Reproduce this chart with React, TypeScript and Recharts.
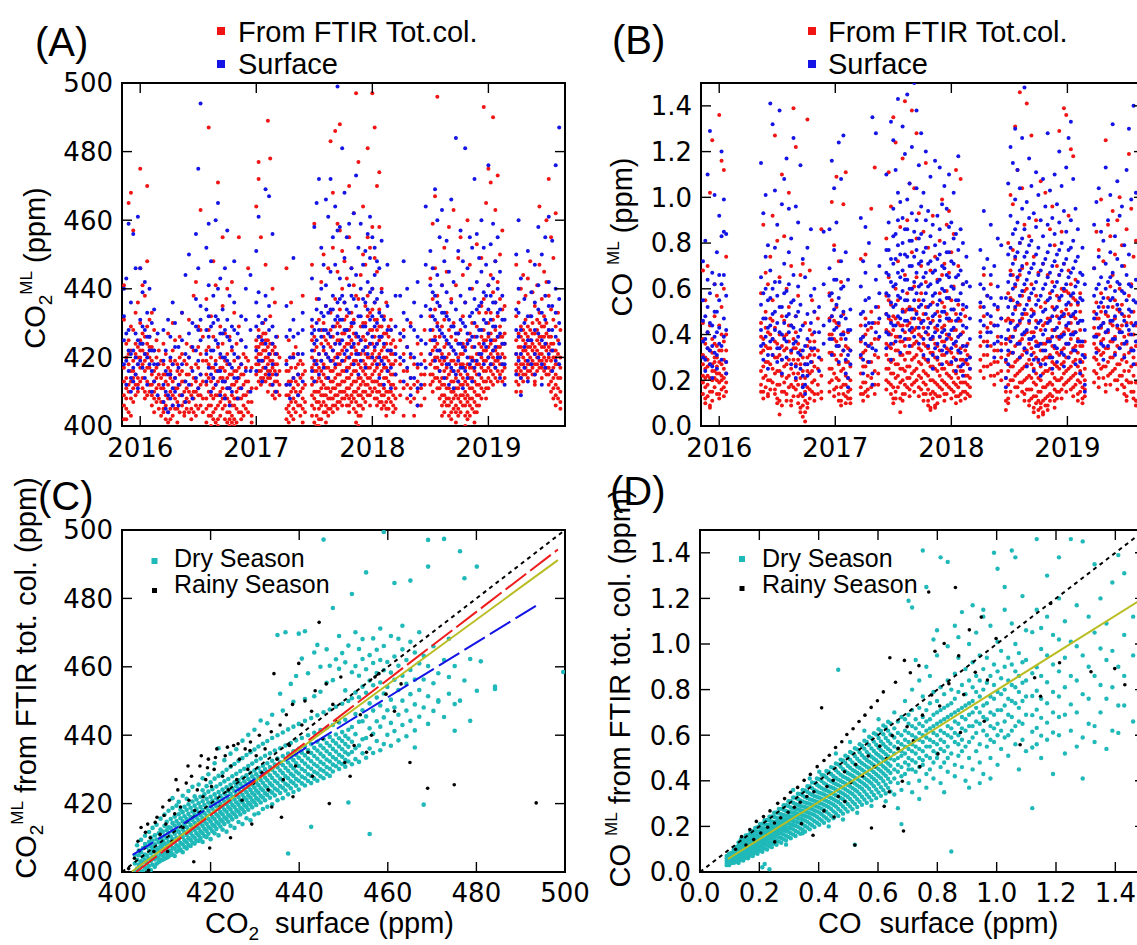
import { ScatterChart, Scatter, XAxis, YAxis, ReferenceArea } from 'recharts';

// time series rows: [decimal year, values...]
const A_FTIR = [
  [2015.86, 402, 406, 409, 413, 417, 431, 441], [2015.88, 405, 408, 411, 414, 420, 424, 402], [2015.90, 404, 410, 412, 418, 421, 425, 465],
  [2015.92, 403, 408, 413, 416, 422, 429, 468], [2015.94, 407, 411, 414, 416, 419, 428, 457], [2015.96, 409, 412, 415, 421, 424, 433],
  [2015.98, 410, 414, 418, 420, 423, 436, 412], [2016.00, 413, 417, 420, 422, 425, 430, 475, 446], [2016.02, 411, 414, 418, 422, 424, 427, 441],
  [2016.04, 408, 410, 416, 419, 421, 426, 438], [2016.06, 409, 413, 417, 421, 424, 429, 470, 448], [2016.08, 410, 412, 417, 420, 423, 426, 431],
  [2016.10, 406, 409, 412, 415, 419, 423, 433], [2016.12, 404, 408, 410, 413, 416, 422, 428], [2016.14, 407, 411, 414, 417, 420, 425],
  [2016.16, 405, 408, 412, 415, 418, 422], [2016.18, 403, 407, 411, 414, 419],
  [2016.20, 404, 407, 411, 415, 418, 424, 405], [2016.22, 402, 406, 409, 413, 415, 421], [2016.24, 401, 404, 408, 412, 417, 427],
  [2016.26, 402, 405, 410, 414, 416, 419], [2016.28, 403, 406, 409, 413, 418, 422, 430], [2016.30, 405, 408, 411, 414, 419, 425],
  [2016.32, 401, 405, 407, 411, 416, 418], [2016.34, 404, 409, 412, 415, 420, 426], [2016.36, 406, 409, 413, 416, 421, 433],
  [2016.38, 403, 407, 410, 413, 419, 404], [2016.40, 405, 408, 411, 415, 418, 424], [2016.42, 404, 407, 410, 415, 420, 431],
  [2016.44, 402, 405, 409, 412, 417, 423], [2016.46, 404, 408, 410, 414, 422, 438], [2016.48, 403, 406, 410, 413, 418, 442],
  [2016.50, 405, 409, 411, 417, 423, 429], [2016.52, 406, 409, 412, 415, 421, 463, 428], [2016.54, 404, 408, 413, 419, 426],
  [2016.57, 401, 405, 408, 412, 415, 419, 422, 437], [2016.59, 403, 406, 410, 414, 418, 423, 428, 487], [2016.61, 400, 403, 406, 409, 413, 417, 420, 432],
  [2016.63, 402, 404, 408, 411, 414, 417, 426, 448], [2016.65, 401, 405, 409, 412, 416, 419, 441], [2016.67, 400, 402, 406, 409, 413, 416, 423, 471],
  [2016.69, 403, 407, 410, 414, 417, 420, 429], [2016.71, 405, 408, 411, 414, 417, 424, 435, 455], [2016.73, 402, 406, 409, 413, 416, 419, 427],
  [2016.75, 401, 404, 408, 411, 414, 418, 421, 440], [2016.77, 400, 402, 404, 407, 411, 415, 418, 426], [2016.79, 401, 403, 406, 409, 412, 415, 422, 442],
  [2016.81, 400, 402, 406, 408, 412, 416, 419, 433], [2016.83, 401, 405, 408, 410, 413, 416, 424], [2016.85, 404, 408, 411, 414, 417, 420, 429, 455],
  [2016.87, 402, 404, 408, 411, 415, 418, 425], [2016.89, 403, 406, 409, 412, 415, 421], [2016.91, 405, 409, 413, 417, 420],
  [2016.93, 404, 407, 410, 413, 419, 446], [2016.96, 401, 403, 407, 411, 417],
  [2017.00, 411, 415, 418, 420, 423, 425, 464], [2017.02, 413, 416, 418, 421, 423, 426, 428, 477, 472], [2017.04, 412, 414, 416, 419, 421, 424, 426, 455],
  [2017.06, 414, 417, 419, 422, 424, 427, 430, 413], [2017.08, 413, 415, 417, 420, 422, 425, 427, 447], [2017.10, 410, 414, 416, 418, 420, 423, 425, 489],
  [2017.12, 412, 414, 416, 419, 421, 424, 432, 478], [2017.14, 409, 412, 415, 417, 419, 422, 424, 440], [2017.16, 408, 410, 413, 416, 418, 421, 423, 436],
  [2017.18, 410, 413, 415, 418, 421, 426], [2017.20, 409, 412, 416, 420],
  [2017.26, 402, 405, 409, 412, 416, 419, 446], [2017.28, 401, 404, 406, 409, 413, 416, 425], [2017.30, 403, 407, 410, 413, 417, 420, 436],
  [2017.32, 402, 405, 408, 411, 414, 421], [2017.34, 404, 407, 410, 413, 417, 423], [2017.36, 406, 409, 412, 415, 418, 421],
  [2017.38, 403, 406, 410, 414, 419], [2017.40, 401, 405, 408, 411, 415, 418, 438], [2017.42, 404, 407, 412, 416],
  [2017.48, 403, 406, 409, 412, 414, 417, 420, 425, 429, 447], [2017.50, 401, 405, 408, 410, 413, 416, 418, 422, 426, 459],
  [2017.52, 400, 403, 407, 410, 413, 416, 419, 423, 437], [2017.54, 400, 402, 405, 407, 410, 414, 417, 421, 431],
  [2017.56, 402, 406, 409, 411, 413, 416, 419, 424, 428, 442], [2017.58, 404, 407, 409, 412, 415, 418, 422, 426, 430, 450],
  [2017.60, 401, 404, 406, 409, 411, 414, 417, 421, 425, 435], [2017.62, 403, 405, 408, 411, 414, 417, 420, 424, 427, 446],
  [2017.64, 405, 408, 410, 413, 416, 419, 423, 428, 433, 483], [2017.66, 404, 406, 408, 411, 413, 416, 419, 422, 426, 452, 468],
  [2017.68, 406, 409, 411, 414, 417, 420, 424, 429, 437, 486], [2017.70, 405, 407, 409, 412, 415, 418, 421, 425, 430, 445, 459],
  [2017.72, 407, 410, 412, 415, 418, 421, 425, 429, 434, 457, 488], [2017.74, 406, 408, 410, 413, 416, 419, 422, 427, 440, 451],
  [2017.76, 408, 410, 413, 416, 419, 423, 427, 431, 436, 448], [2017.78, 406, 409, 411, 414, 417, 420, 424, 428, 432, 443],
  [2017.80, 404, 406, 408, 411, 414, 417, 420, 424, 428, 455, 470], [2017.82, 407, 409, 412, 415, 418, 421, 425, 429, 433, 446],
  [2017.84, 405, 408, 410, 413, 416, 419, 423, 427, 431, 441, 462], [2017.86, 401, 404, 407, 410, 413, 416, 419, 422, 426, 438, 497],
  [2017.88, 400, 403, 406, 409, 411, 414, 418, 421, 424, 437, 477], [2017.90, 403, 406, 409, 412, 414, 417, 421, 425, 429, 444],
  [2017.92, 405, 408, 410, 413, 416, 419, 422, 426, 430, 450, 464], [2017.94, 407, 410, 412, 415, 418, 421, 425, 430, 435, 447],
  [2017.96, 409, 412, 414, 417, 420, 423, 427, 432, 438, 455, 481], [2017.98, 406, 409, 411, 414, 417, 420, 424, 428, 433, 452],
  [2018.00, 410, 413, 415, 418, 421, 424, 428, 434, 440, 458, 497], [2018.02, 408, 411, 413, 416, 419, 422, 426, 431, 436, 449, 487],
  [2018.04, 406, 408, 410, 413, 417, 420, 424, 428, 431, 445, 470], [2018.06, 407, 410, 412, 415, 418, 421, 425, 429, 434, 458, 474],
  [2018.08, 405, 407, 409, 412, 416, 419, 422, 426, 429, 440], [2018.10, 406, 409, 411, 414, 417, 420, 423, 427, 432],
  [2018.12, 403, 405, 407, 410, 414, 417, 420, 424, 427, 436], [2018.14, 405, 408, 410, 413, 416, 419, 422, 426, 429],
  [2018.16, 407, 410, 412, 415, 418, 421, 424, 428, 431], [2018.18, 404, 406, 409, 412, 415, 418, 421, 425], [2018.20, 405, 408, 411, 415, 419, 423],
  [2018.24, 409, 413, 418, 425], [2018.27, 411, 416, 421, 428, 403], [2018.30, 408, 412, 416, 423], [2018.33, 407, 411, 414, 420, 430],
  [2018.36, 403, 408, 412, 418], [2018.39, 406, 410, 413, 417, 424], [2018.42, 406, 411, 415, 421], [2018.45, 408, 412, 415, 419, 428],
  [2018.50, 412, 415, 418, 421, 425, 432, 443], [2018.52, 410, 413, 415, 419, 422, 428, 437, 459], [2018.54, 414, 417, 420, 423, 426, 434, 446, 467],
  [2018.56, 411, 414, 417, 420, 424, 430, 438, 496], [2018.58, 408, 411, 413, 416, 419, 422, 426, 435], [2018.60, 403, 406, 409, 412, 414, 418, 421, 429, 441],
  [2018.62, 404, 407, 409, 412, 416, 419, 423, 431, 452], [2018.64, 406, 408, 411, 414, 417, 420, 424, 433, 445], [2018.66, 403, 406, 408, 411, 415, 418, 421, 428, 458],
  [2018.68, 402, 404, 407, 410, 413, 416, 419, 426, 437], [2018.70, 405, 408, 410, 413, 416, 419, 422, 430, 463], [2018.72, 401, 404, 406, 409, 411, 414, 418, 425, 441],
  [2018.74, 403, 405, 408, 411, 413, 416, 420, 427, 449], [2018.76, 404, 407, 409, 412, 415, 418, 421, 428, 455], [2018.78, 406, 409, 412, 414, 418, 421, 424, 432, 444],
  [2018.80, 400, 403, 406, 408, 410, 413, 417, 423, 436], [2018.82, 402, 404, 407, 409, 412, 415, 418, 425, 460], [2018.84, 403, 406, 408, 411, 414, 417, 420, 427, 447],
  [2018.86, 405, 408, 411, 414, 417, 420, 423, 430, 440], [2018.88, 401, 404, 407, 410, 413, 416, 419, 426], [2018.90, 404, 406, 409, 412, 415, 418, 421, 429, 453],
  [2018.92, 406, 409, 412, 415, 418, 421, 424, 433], [2018.94, 408, 411, 414, 417, 420, 423, 426, 435, 449], [2018.96, 410, 413, 416, 419, 422, 425, 428, 437, 493],
  [2018.98, 408, 411, 413, 416, 419, 422, 425, 433, 465], [2019.00, 411, 414, 417, 420, 423, 426, 430, 441, 475], [2019.02, 413, 416, 418, 421, 424, 427, 433, 444, 471],
  [2019.04, 412, 415, 418, 420, 422, 425, 431, 439, 490], [2019.06, 414, 417, 419, 422, 425, 428, 436, 448, 463], [2019.08, 413, 416, 419, 421, 423, 426, 432, 442, 473],
  [2019.10, 415, 418, 420, 423, 426, 429, 437, 450], [2019.12, 413, 416, 418, 421, 424, 426, 434, 457], [2019.14, 414, 417, 420, 424, 427, 435],
  [2019.24, 410, 413, 416, 418, 421, 425, 432, 447], [2019.26, 412, 415, 417, 420, 423, 427, 436], [2019.28, 414, 416, 418, 421, 423, 426, 429, 440, 410],
  [2019.30, 413, 415, 418, 420, 422, 425, 428, 444], [2019.32, 415, 417, 419, 422, 424, 427, 431, 438], [2019.34, 414, 416, 418, 421, 423, 426, 429, 443],
  [2019.36, 416, 418, 420, 423, 425, 428, 432, 448], [2019.38, 415, 417, 419, 422, 424, 427, 430, 439], [2019.40, 413, 415, 418, 421, 423, 427, 435, 412],
  [2019.42, 416, 418, 420, 422, 425, 428, 431, 441], [2019.44, 417, 419, 421, 424, 426, 430, 433, 447, 464], [2019.46, 414, 417, 419, 421, 423, 426, 429, 437],
  [2019.48, 416, 418, 420, 423, 426, 429, 432, 445], [2019.50, 415, 417, 419, 422, 424, 427, 430, 442, 460], [2019.52, 412, 415, 417, 420, 423, 426, 428, 438, 472],
  [2019.54, 410, 413, 416, 419, 422, 424, 426, 434, 455], [2019.56, 408, 411, 414, 417, 420, 422, 424, 431, 449], [2019.58, 406, 409, 412, 415, 418, 420, 422, 429, 462],
  [2019.60, 408, 411, 414, 418, 421, 425, 433], [2019.62, 405, 407, 410, 414, 417, 420, 428],
];

const A_SURF = [
  [2015.86, 418, 425, 432, 440], [2015.88, 412, 419, 427, 443], [2015.90, 416, 422, 428, 459], [2015.92, 410, 414, 421, 436],
  [2015.94, 413, 417, 422, 456], [2015.96, 415, 420, 427, 446], [2015.98, 411, 418, 425, 461], [2016.00, 419, 424, 431, 446],
  [2016.02, 417, 424, 429, 439], [2016.04, 414, 421, 428, 442], [2016.06, 412, 420, 426, 433], [2016.08, 418, 422, 426, 440],
  [2016.10, 410, 416, 422, 430], [2016.12, 413, 418, 422, 434], [2016.15, 409, 418, 427],
  [2016.20, 407, 412, 419, 428], [2016.22, 405, 410, 416, 422], [2016.24, 404, 409, 415, 431], [2016.26, 408, 415, 420, 426],
  [2016.28, 406, 411, 418, 436], [2016.30, 410, 414, 423, 430], [2016.33, 406, 412, 417, 423], [2016.36, 409, 418, 425, 433],
  [2016.39, 407, 413, 421, 444], [2016.42, 412, 420, 427, 450], [2016.45, 408, 416, 423, 430], [2016.48, 414, 422, 429, 437, 456],
  [2016.50, 411, 419, 428, 446, 475], [2016.52, 415, 425, 431, 435, 494],
  [2016.57, 413, 421, 428, 434, 452], [2016.59, 417, 426, 432, 441, 459], [2016.61, 410, 415, 422, 429, 448], [2016.63, 414, 422, 430, 438],
  [2016.65, 412, 418, 425, 432, 460], [2016.67, 416, 424, 431, 440, 465], [2016.69, 409, 416, 421, 427, 443], [2016.71, 413, 420, 427, 434],
  [2016.73, 408, 413, 420, 428, 446], [2016.75, 411, 419, 426, 431, 457], [2016.77, 406, 411, 418, 425, 438], [2016.79, 410, 417, 423, 429],
  [2016.81, 414, 421, 428, 436, 448], [2016.84, 408, 414, 420, 427], [2016.87, 411, 418, 425, 432], [2016.91, 416, 423, 431, 440],
  [2016.95, 410, 416, 428, 444],
  [2017.00, 416, 422, 429, 436, 451], [2017.02, 419, 426, 432, 439, 461], [2017.05, 413, 419, 425, 430], [2017.08, 417, 424, 431, 438, 469],
  [2017.11, 415, 421, 428, 435, 467], [2017.14, 412, 418, 424, 429, 456], [2017.17, 410, 415, 421, 426],
  [2017.26, 412, 418, 426, 435], [2017.29, 408, 412, 420, 428], [2017.32, 414, 420, 426, 431, 449], [2017.36, 409, 415, 421, 427],
  [2017.40, 413, 421, 428, 433],
  [2017.48, 416, 422, 427, 431, 443], [2017.50, 413, 419, 424, 428, 458], [2017.52, 418, 425, 430, 434, 465], [2017.54, 415, 421, 428, 437, 472],
  [2017.56, 419, 426, 433, 440, 452], [2017.58, 417, 423, 428, 432, 447], [2017.60, 421, 428, 435, 441, 466], [2017.62, 414, 420, 427, 433, 461],
  [2017.64, 419, 426, 434, 445, 472], [2017.66, 422, 429, 434, 438, 455], [2017.68, 418, 424, 431, 447, 464], [2017.70, 420, 427, 432, 436, 457, 499],
  [2017.72, 424, 431, 437, 443, 458], [2017.74, 419, 425, 431, 438, 481], [2017.76, 421, 428, 436, 449, 468], [2017.78, 416, 422, 428, 434, 455],
  [2017.80, 420, 426, 433, 441, 459], [2017.82, 423, 430, 438, 446], [2017.84, 418, 424, 430, 437, 462], [2017.86, 421, 427, 435, 444, 473],
  [2017.88, 415, 421, 426, 432, 452], [2017.90, 419, 425, 432, 440, 459], [2017.92, 422, 429, 437, 447], [2017.94, 417, 423, 429, 436, 451],
  [2017.96, 421, 427, 434, 442, 456], [2017.98, 424, 431, 439, 449, 461], [2018.00, 420, 426, 432, 440, 455], [2018.02, 423, 429, 436, 444, 452],
  [2018.04, 418, 424, 430, 437, 448], [2018.06, 414, 420, 426, 433, 446], [2018.08, 419, 426, 432, 439, 454], [2018.10, 412, 418, 424, 431],
  [2018.13, 416, 422, 428, 435, 447], [2018.16, 411, 417, 422, 428], [2018.20, 415, 421, 429, 438],
  [2018.24, 420, 427, 438], [2018.27, 413, 419, 426, 433, 448], [2018.30, 417, 423, 431, 440], [2018.33, 409, 414, 421, 429],
  [2018.36, 414, 420, 428, 436], [2018.39, 406, 411, 418, 426, 442], [2018.42, 412, 418, 425, 432], [2018.46, 417, 424, 435, 447, 464],
  [2018.50, 421, 428, 434, 441, 451], [2018.52, 425, 432, 439, 446], [2018.54, 419, 425, 431, 438, 469], [2018.56, 422, 429, 436, 444, 460],
  [2018.58, 416, 422, 428, 435, 455], [2018.60, 420, 427, 433, 441, 463], [2018.62, 414, 420, 426, 433, 448], [2018.64, 418, 425, 432, 439, 454],
  [2018.66, 412, 418, 424, 431, 445], [2018.68, 417, 423, 429, 436, 466], [2018.70, 411, 416, 422, 429, 442], [2018.72, 415, 421, 427, 434, 484],
  [2018.74, 413, 419, 424, 427, 451], [2018.76, 417, 424, 431, 438, 457], [2018.78, 411, 417, 423, 430, 448], [2018.80, 416, 422, 429, 436, 481],
  [2018.82, 414, 420, 424, 427, 446], [2018.84, 418, 425, 432, 440, 455], [2018.86, 413, 419, 426, 433, 452], [2018.88, 417, 423, 430, 437, 472],
  [2018.90, 419, 426, 434, 442, 456], [2018.92, 415, 421, 428, 435, 449], [2018.94, 421, 428, 436, 445, 460], [2018.96, 418, 424, 431, 439, 452],
  [2018.98, 423, 430, 438, 447], [2019.00, 420, 427, 434, 441, 476], [2019.02, 418, 425, 431, 438, 453], [2019.04, 422, 429, 436, 443, 459],
  [2019.06, 417, 423, 429, 436, 448], [2019.08, 420, 426, 433, 440, 455], [2019.10, 414, 420, 427, 434, 445], [2019.12, 418, 424, 431, 438],
  [2019.14, 412, 418, 424, 431],
  [2019.24, 415, 421, 428, 434, 450], [2019.26, 419, 426, 433, 440, 460], [2019.28, 409, 414, 421, 428, 443], [2019.31, 417, 423, 430, 437],
  [2019.34, 413, 419, 425, 432, 451], [2019.37, 418, 425, 432, 439], [2019.40, 415, 421, 428, 436, 447], [2019.43, 420, 427, 434, 441, 458],
  [2019.46, 412, 418, 425, 433, 450], [2019.49, 417, 424, 431, 438, 455], [2019.52, 421, 428, 435, 442, 461], [2019.55, 416, 422, 428, 435, 454],
  [2019.58, 419, 426, 433, 440, 476], [2019.61, 418, 424, 430, 437, 487],
];

const B_FTIR = [
  [2015.86, 0.14, 0.19, 0.22, 0.27, 0.31, 0.38, 0.45, 0.68], [2015.88, 0.10, 0.12, 0.17, 0.21, 0.25, 0.30, 0.36, 0.55],
  [2015.90, 0.13, 0.18, 0.22, 0.26, 0.29, 0.34, 0.41, 0.70], [2015.92, 0.08, 0.09, 0.15, 0.21, 0.27, 0.33, 0.44, 1.02],
  [2015.94, 0.11, 0.15, 0.20, 0.24, 0.27, 0.32, 0.38, 1.25], [2015.96, 0.17, 0.21, 0.24, 0.28, 0.30, 0.36, 0.48, 0.62],
  [2015.98, 0.14, 0.20, 0.23, 0.26, 0.30, 0.35, 0.57], [2016.00, 0.12, 0.14, 0.19, 0.23, 0.28, 0.33, 0.44, 1.36],
  [2016.02, 0.16, 0.20, 0.22, 0.27, 0.33, 0.40, 0.52, 1.16], [2016.04, 0.13, 0.17, 0.21, 0.25, 0.29, 0.37, 0.60, 1.12],
  [2016.06, 0.15, 0.19, 0.23, 0.28, 0.33, 0.40, 0.74],
  [2016.36, 0.15, 0.18, 0.24, 0.32, 0.39, 0.45, 0.58], [2016.38, 0.12, 0.15, 0.21, 0.26, 0.33, 0.38, 0.88], [2016.40, 0.17, 0.22, 0.28, 0.35, 0.43, 0.50, 0.67],
  [2016.42, 0.13, 0.14, 0.20, 0.28, 0.34, 0.41, 0.62], [2016.44, 0.16, 0.20, 0.27, 0.34, 0.40, 0.47, 0.74], [2016.46, 0.19, 0.25, 0.31, 0.38, 0.46, 0.55, 0.92],
  [2016.48, 0.14, 0.16, 0.23, 0.30, 0.37, 0.43, 1.27], [2016.50, 0.10, 0.12, 0.18, 0.24, 0.30, 0.36, 0.81], [2016.52, 0.05, 0.11, 0.18, 0.24, 0.31, 0.40, 0.65],
  [2016.54, 0.09, 0.15, 0.22, 0.29, 0.35, 0.48, 1.10], [2016.56, 0.15, 0.19, 0.26, 0.33, 0.39, 0.46, 0.83], [2016.58, 0.11, 0.14, 0.21, 0.27, 0.34, 0.40, 0.60],
  [2016.60, 0.17, 0.22, 0.29, 0.37, 0.44, 0.52, 1.02], [2016.62, 0.09, 0.11, 0.18, 0.25, 0.32, 0.44, 0.70], [2016.64, 0.13, 0.17, 0.23, 0.29, 0.34, 0.38, 1.39],
  [2016.66, 0.16, 0.20, 0.27, 0.34, 0.41, 0.48, 1.22], [2016.68, 0.10, 0.13, 0.18, 0.23, 0.29, 0.36, 0.57], [2016.70, 0.06, 0.08, 0.14, 0.21, 0.27, 0.33, 0.66],
  [2016.72, 0.04, 0.09, 0.13, 0.18, 0.24, 0.30, 0.71], [2016.74, 0.02, 0.06, 0.11, 0.15, 0.21, 0.27, 0.45], [2016.76, 0.08, 0.10, 0.17, 0.24, 0.30, 0.35, 1.34],
  [2016.78, 0.12, 0.16, 0.23, 0.31, 0.37, 0.42, 0.68], [2016.80, 0.15, 0.19, 0.24, 0.28, 0.33, 0.40, 0.55], [2016.82, 0.11, 0.14, 0.20, 0.26, 0.31, 0.37, 0.50],
  [2016.85, 0.14, 0.18, 0.25, 0.33, 0.47], [2016.88, 0.12, 0.15, 0.22, 0.29, 0.86],
  [2016.95, 0.15, 0.19, 0.25, 0.32, 0.40, 0.47, 0.58], [2016.97, 0.20, 0.25, 0.32, 0.40, 0.48, 0.55, 0.98], [2016.99, 0.13, 0.16, 0.23, 0.31, 0.38, 0.46, 0.79],
  [2017.01, 0.17, 0.21, 0.29, 0.37, 0.45, 0.52, 1.09], [2017.03, 0.11, 0.14, 0.20, 0.27, 0.35, 0.44, 0.72], [2017.05, 0.09, 0.11, 0.17, 0.24, 0.31, 0.38, 0.63],
  [2017.07, 0.14, 0.18, 0.25, 0.33, 0.41, 0.49, 0.97], [2017.09, 0.10, 0.13, 0.18, 0.22, 0.28, 0.35, 1.11], [2017.11, 0.12, 0.15, 0.21, 0.28, 0.34, 0.41],
  [2017.13, 0.10, 0.12, 0.16, 0.20, 0.26, 0.33],
  [2017.22, 0.14, 0.17, 0.23, 0.30, 0.37, 0.44, 0.73], [2017.24, 0.11, 0.14, 0.19, 0.26, 0.32, 0.39], [2017.26, 0.15, 0.19, 0.26, 0.33, 0.40, 0.47, 0.75],
  [2017.28, 0.13, 0.16, 0.22, 0.28, 0.35, 0.42], [2017.31, 0.17, 0.21, 0.28, 0.36, 0.43, 0.50, 0.95], [2017.34, 0.14, 0.18, 0.24, 0.31, 0.38, 0.45, 1.13],
  [2017.37, 0.18, 0.23, 0.30, 0.38, 0.45, 0.52],
  [2017.44, 0.16, 0.20, 0.25, 0.31, 0.36, 0.42, 0.49, 0.57, 0.82], [2017.46, 0.19, 0.25, 0.29, 0.35, 0.41, 0.47, 0.55, 0.65, 1.11],
  [2017.48, 0.14, 0.18, 0.23, 0.28, 0.34, 0.40, 0.46, 0.53, 0.96], [2017.50, 0.10, 0.12, 0.17, 0.23, 0.29, 0.36, 0.42, 0.48, 1.35],
  [2017.52, 0.12, 0.15, 0.21, 0.27, 0.33, 0.39, 0.47, 0.60, 1.24], [2017.54, 0.17, 0.22, 0.27, 0.33, 0.39, 0.45, 0.55, 0.72],
  [2017.56, 0.06, 0.12, 0.19, 0.25, 0.31, 0.37, 0.44, 0.87], [2017.58, 0.11, 0.14, 0.20, 0.25, 0.31, 0.37, 0.44, 0.51, 1.17],
  [2017.60, 0.14, 0.18, 0.24, 0.29, 0.35, 0.41, 0.50, 0.66, 1.42], [2017.62, 0.17, 0.21, 0.26, 0.32, 0.38, 0.44, 0.51, 0.58, 0.90],
  [2017.64, 0.13, 0.16, 0.21, 0.26, 0.32, 0.38, 0.45, 0.52, 1.06], [2017.66, 0.18, 0.23, 0.29, 0.35, 0.41, 0.47, 0.60, 0.76, 1.38],
  [2017.68, 0.15, 0.19, 0.24, 0.30, 0.36, 0.42, 0.51, 0.61, 1.04], [2017.70, 0.20, 0.25, 0.31, 0.37, 0.43, 0.50, 0.65, 0.82, 1.28],
  [2017.72, 0.13, 0.17, 0.22, 0.28, 0.34, 0.40, 0.47, 0.55, 0.93], [2017.74, 0.16, 0.21, 0.27, 0.33, 0.39, 0.46, 0.58, 0.70],
  [2017.76, 0.11, 0.14, 0.19, 0.24, 0.30, 0.36, 0.43, 0.49, 0.85], [2017.78, 0.14, 0.18, 0.23, 0.29, 0.35, 0.41, 0.52, 0.63, 1.15],
  [2017.80, 0.09, 0.11, 0.16, 0.22, 0.28, 0.34, 0.40, 0.47, 0.78], [2017.82, 0.07, 0.08, 0.14, 0.20, 0.26, 0.32, 0.38, 0.45, 0.68],
  [2017.84, 0.12, 0.15, 0.20, 0.26, 0.32, 0.38, 0.46, 0.54, 0.92], [2017.86, 0.08, 0.09, 0.14, 0.19, 0.25, 0.30, 0.36, 0.43, 0.74],
  [2017.88, 0.10, 0.13, 0.18, 0.24, 0.29, 0.35, 0.42, 0.50, 0.64], [2017.90, 0.13, 0.17, 0.22, 0.27, 0.33, 0.39, 0.48, 0.58, 0.81],
  [2017.92, 0.16, 0.20, 0.25, 0.31, 0.37, 0.43, 0.54, 0.66, 0.99], [2017.94, 0.11, 0.14, 0.19, 0.25, 0.31, 0.37, 0.44, 0.52, 0.71],
  [2017.96, 0.14, 0.18, 0.23, 0.28, 0.34, 0.40, 0.49, 0.59, 0.88], [2017.98, 0.17, 0.22, 0.27, 0.33, 0.39, 0.46, 0.56, 0.67, 0.94],
  [2018.00, 0.12, 0.16, 0.21, 0.27, 0.32, 0.38, 0.46, 0.55, 0.76], [2018.02, 0.15, 0.19, 0.24, 0.30, 0.36, 0.42, 0.51, 0.61, 0.84],
  [2018.04, 0.10, 0.13, 0.18, 0.23, 0.29, 0.35, 0.42, 0.49, 1.12], [2018.06, 0.13, 0.17, 0.21, 0.26, 0.32, 0.39, 0.46, 0.53, 0.70],
  [2018.08, 0.11, 0.14, 0.19, 0.24, 0.29, 0.34, 0.40, 0.46, 1.08], [2018.10, 0.15, 0.19, 0.24, 0.29, 0.35, 0.41, 0.51, 0.62],
  [2018.12, 0.12, 0.15, 0.19, 0.22, 0.28, 0.33, 0.48], [2018.14, 0.14, 0.18, 0.22, 0.27, 0.31, 0.36], [2018.16, 0.13, 0.17, 0.21, 0.25, 0.30],
  [2018.25, 0.24, 0.29, 0.35, 0.41, 0.52], [2018.28, 0.21, 0.26, 0.31, 0.37, 0.48, 0.66], [2018.31, 0.26, 0.31, 0.37, 0.43, 0.57],
  [2018.34, 0.22, 0.27, 0.35, 0.45, 0.62], [2018.37, 0.18, 0.22, 0.28, 0.33, 0.44], [2018.40, 0.23, 0.28, 0.33, 0.39, 0.51], [2018.43, 0.20, 0.24, 0.30, 0.36, 0.47],
  [2018.47, 0.07, 0.11, 0.15, 0.21, 0.28, 0.36, 0.46], [2018.49, 0.10, 0.12, 0.18, 0.24, 0.31, 0.38, 0.47, 0.58, 0.80],
  [2018.51, 0.15, 0.20, 0.26, 0.32, 0.39, 0.46, 0.56, 0.68, 1.01], [2018.53, 0.20, 0.26, 0.32, 0.39, 0.46, 0.55, 0.66, 0.77, 0.97],
  [2018.55, 0.17, 0.22, 0.28, 0.35, 0.42, 0.51, 0.61, 0.73, 1.31], [2018.57, 0.13, 0.17, 0.23, 0.29, 0.36, 0.44, 0.53, 0.64, 1.12],
  [2018.59, 0.19, 0.24, 0.30, 0.37, 0.45, 0.53, 0.66, 0.80, 1.46], [2018.61, 0.15, 0.19, 0.25, 0.31, 0.38, 0.47, 0.57, 0.69, 1.04],
  [2018.63, 0.11, 0.14, 0.20, 0.26, 0.33, 0.40, 0.49, 0.59, 0.88], [2018.65, 0.16, 0.21, 0.27, 0.33, 0.41, 0.49, 0.60, 0.71, 1.41],
  [2018.67, 0.09, 0.11, 0.16, 0.22, 0.29, 0.36, 0.45, 0.55, 0.83], [2018.69, 0.12, 0.16, 0.21, 0.27, 0.34, 0.41, 0.51, 0.62, 1.27],
  [2018.71, 0.06, 0.08, 0.13, 0.19, 0.25, 0.32, 0.41, 0.50, 0.74], [2018.73, 0.10, 0.13, 0.18, 0.23, 0.30, 0.37, 0.46, 0.57, 0.90],
  [2018.75, 0.04, 0.07, 0.11, 0.15, 0.21, 0.28, 0.36, 0.45, 0.67], [2018.77, 0.08, 0.10, 0.15, 0.20, 0.26, 0.33, 0.42, 0.52, 1.07],
  [2018.79, 0.05, 0.06, 0.11, 0.17, 0.23, 0.29, 0.36, 0.44, 0.71], [2018.81, 0.09, 0.12, 0.17, 0.24, 0.30, 0.36, 0.45, 0.54, 1.02],
  [2018.83, 0.07, 0.09, 0.13, 0.18, 0.24, 0.30, 0.38, 0.47, 0.66], [2018.85, 0.11, 0.14, 0.19, 0.25, 0.31, 0.38, 0.47, 0.58, 0.86],
  [2018.87, 0.13, 0.18, 0.23, 0.28, 0.35, 0.42, 0.52, 0.63, 0.96], [2018.89, 0.08, 0.11, 0.16, 0.21, 0.27, 0.34, 0.42, 0.51, 0.79],
  [2018.91, 0.12, 0.15, 0.20, 0.26, 0.32, 0.39, 0.48, 0.57, 0.70], [2018.93, 0.15, 0.20, 0.25, 0.31, 0.38, 0.45, 0.55, 0.66, 1.29],
  [2018.95, 0.12, 0.16, 0.21, 0.27, 0.33, 0.40, 0.50, 0.60, 0.85], [2018.97, 0.18, 0.23, 0.28, 0.34, 0.41, 0.48, 0.59, 0.71, 1.39],
  [2018.99, 0.15, 0.19, 0.24, 0.30, 0.36, 0.43, 0.51, 0.59, 1.36], [2019.01, 0.20, 0.25, 0.30, 0.36, 0.42, 0.49, 0.58, 0.68, 0.92],
  [2019.03, 0.16, 0.21, 0.26, 0.32, 0.38, 0.45, 0.53, 0.62, 1.21], [2019.05, 0.13, 0.17, 0.22, 0.28, 0.34, 0.41, 0.48, 0.56, 1.18],
  [2019.07, 0.18, 0.23, 0.29, 0.35, 0.41, 0.47, 0.55, 0.64], [2019.09, 0.11, 0.14, 0.20, 0.26, 0.32, 0.38, 0.45, 0.53],
  [2019.11, 0.15, 0.19, 0.24, 0.29, 0.35, 0.42, 0.50, 0.58], [2019.13, 0.10, 0.12, 0.17, 0.22, 0.28, 0.35], [2019.15, 0.13, 0.16, 0.20, 0.25, 0.31, 0.37],
  [2019.23, 0.19, 0.24, 0.30, 0.36, 0.43, 0.50, 0.69], [2019.25, 0.23, 0.29, 0.34, 0.40, 0.47, 0.54, 0.85], [2019.27, 0.17, 0.21, 0.27, 0.33, 0.40, 0.47, 0.77],
  [2019.29, 0.25, 0.31, 0.37, 0.43, 0.50, 0.58, 0.99], [2019.31, 0.21, 0.26, 0.32, 0.38, 0.45, 0.52, 0.72], [2019.33, 0.15, 0.18, 0.26, 0.34, 0.41, 0.49, 1.25],
  [2019.35, 0.22, 0.28, 0.34, 0.41, 0.48, 0.56, 0.88], [2019.37, 0.18, 0.23, 0.30, 0.37, 0.45, 0.61, 0.83], [2019.39, 0.24, 0.30, 0.37, 0.44, 0.52, 0.66, 0.94],
  [2019.41, 0.20, 0.25, 0.32, 0.39, 0.47, 0.55, 0.75], [2019.43, 0.16, 0.20, 0.27, 0.35, 0.43, 0.51, 0.90], [2019.45, 0.22, 0.27, 0.34, 0.42, 0.50, 0.60, 1.00],
  [2019.47, 0.18, 0.22, 0.29, 0.36, 0.44, 0.53, 0.79], [2019.49, 0.14, 0.17, 0.24, 0.31, 0.39, 0.48, 0.70], [2019.51, 0.11, 0.13, 0.20, 0.28, 0.36, 0.45, 0.86],
  [2019.53, 0.19, 0.24, 0.32, 0.40, 0.48, 0.57, 1.19], [2019.55, 0.15, 0.19, 0.26, 0.34, 0.45, 0.62, 0.95], [2019.57, 0.12, 0.15, 0.22, 0.30, 0.40, 0.50, 0.74],
  [2019.59, 0.09, 0.11, 0.19, 0.27, 0.35, 0.44, 0.81],
];

const B_SURF = [
  [2015.86, 0.30, 0.37, 0.46, 0.55, 0.72], [2015.88, 0.24, 0.29, 0.38, 0.48, 0.81], [2015.90, 0.34, 0.41, 0.52, 0.64, 1.10],
  [2015.92, 0.27, 0.33, 0.45, 0.58, 1.29], [2015.94, 0.21, 0.26, 0.35, 0.44, 0.67], [2015.96, 0.32, 0.39, 0.50, 0.62, 1.01],
  [2015.98, 0.25, 0.31, 0.41, 0.50, 0.76], [2016.00, 0.36, 0.43, 0.55, 0.66, 0.92], [2016.02, 0.29, 0.35, 0.62, 0.83, 1.20],
  [2016.04, 0.39, 0.47, 0.66, 0.85, 0.99], [2016.06, 0.23, 0.28, 0.42, 0.57, 0.84],
  [2016.36, 0.35, 0.42, 0.53, 0.65, 1.15], [2016.38, 0.29, 0.36, 0.47, 0.58, 0.93], [2016.40, 0.39, 0.47, 0.60, 0.74, 1.01],
  [2016.42, 0.25, 0.31, 0.43, 0.55, 0.79], [2016.44, 0.37, 0.44, 0.56, 0.68, 1.41], [2016.46, 0.31, 0.38, 0.49, 0.60, 1.32],
  [2016.48, 0.42, 0.50, 0.63, 0.78, 1.03], [2016.50, 0.28, 0.34, 0.45, 0.57, 0.88], [2016.52, 0.34, 0.41, 0.52, 0.63, 1.38],
  [2016.54, 0.23, 0.29, 0.40, 0.52, 0.97], [2016.56, 0.38, 0.45, 0.58, 0.71, 1.08], [2016.58, 0.30, 0.37, 0.48, 0.59, 1.17],
  [2016.60, 0.41, 0.49, 0.62, 0.76, 0.95], [2016.62, 0.27, 0.33, 0.44, 0.54, 0.82], [2016.64, 0.36, 0.43, 0.55, 0.66, 1.26],
  [2016.66, 0.21, 0.26, 0.37, 0.48, 0.96], [2016.68, 0.32, 0.39, 0.50, 0.61, 0.89], [2016.70, 0.25, 0.31, 0.42, 0.53, 1.14],
  [2016.72, 0.17, 0.22, 0.33, 0.44, 0.73], [2016.74, 0.14, 0.18, 0.27, 0.35, 0.65], [2016.76, 0.22, 0.27, 0.38, 0.49, 0.78],
  [2016.79, 0.28, 0.34, 0.45, 0.57, 0.86], [2016.82, 0.34, 0.41, 0.50, 0.60], [2016.86, 0.24, 0.30, 0.41, 0.52], [2016.90, 0.36, 0.44, 0.62, 0.85],
  [2016.95, 0.38, 0.46, 0.57, 0.69, 0.86], [2016.97, 0.31, 0.38, 0.48, 0.58, 1.16], [2016.99, 0.42, 0.51, 0.64, 0.77, 1.04],
  [2017.01, 0.35, 0.43, 0.53, 0.64, 0.89], [2017.03, 0.28, 0.35, 0.45, 0.56, 1.24], [2017.05, 0.40, 0.48, 0.60, 0.72, 1.08],
  [2017.07, 0.33, 0.40, 0.50, 0.61, 1.27], [2017.09, 0.23, 0.29, 0.38, 0.47, 0.76], [2017.11, 0.17, 0.21, 0.31, 0.42, 0.64], [2017.13, 0.27, 0.33, 0.42, 0.51],
  [2017.22, 0.31, 0.38, 0.49, 0.61, 0.91], [2017.24, 0.23, 0.29, 0.39, 0.50, 0.72], [2017.26, 0.36, 0.44, 0.55, 0.67, 0.87],
  [2017.29, 0.28, 0.35, 0.45, 0.56, 0.80], [2017.32, 0.18, 0.23, 0.34, 0.45, 1.35], [2017.35, 0.33, 0.41, 0.52, 0.64, 1.28], [2017.38, 0.39, 0.47, 0.58, 0.70],
  [2017.44, 0.34, 0.41, 0.49, 0.58, 0.67, 0.77, 1.10], [2017.46, 0.40, 0.48, 0.57, 0.66, 0.77, 0.89], [2017.48, 0.29, 0.36, 0.45, 0.54, 0.63, 0.73, 1.33],
  [2017.50, 0.44, 0.52, 0.61, 0.71, 0.83, 0.95, 1.25], [2017.52, 0.37, 0.44, 0.53, 0.62, 0.73, 0.84, 1.12], [2017.54, 0.48, 0.57, 0.67, 0.79, 0.90, 1.02, 1.43],
  [2017.56, 0.32, 0.39, 0.47, 0.56, 0.65, 0.75, 0.98], [2017.58, 0.42, 0.50, 0.59, 0.68, 0.80, 0.91, 1.31], [2017.60, 0.38, 0.46, 0.55, 0.64, 0.75, 0.86, 1.19],
  [2017.62, 0.46, 0.55, 0.64, 0.74, 0.86, 0.99, 1.45], [2017.64, 0.35, 0.42, 0.51, 0.60, 0.70, 0.81, 1.06], [2017.66, 0.43, 0.51, 0.60, 0.70, 0.81, 0.93, 1.22],
  [2017.68, 0.39, 0.47, 0.55, 0.63, 0.74, 0.85, 1.50], [2017.70, 0.49, 0.58, 0.67, 0.77, 0.90, 1.04, 1.38], [2017.72, 0.36, 0.43, 0.52, 0.61, 0.71, 0.82, 1.14],
  [2017.74, 0.45, 0.53, 0.62, 0.72, 0.84, 0.96, 1.28], [2017.76, 0.31, 0.38, 0.46, 0.55, 0.65, 0.76, 1.02], [2017.78, 0.41, 0.49, 0.58, 0.67, 0.78, 0.90, 1.20],
  [2017.80, 0.29, 0.35, 0.43, 0.52, 0.61, 0.71, 0.94], [2017.82, 0.38, 0.45, 0.53, 0.62, 0.72, 0.83, 1.09], [2017.84, 0.25, 0.31, 0.39, 0.48, 0.57, 0.67, 0.88],
  [2017.86, 0.34, 0.41, 0.49, 0.58, 0.68, 0.79, 1.16], [2017.88, 0.30, 0.36, 0.44, 0.53, 0.63, 0.73, 0.92], [2017.90, 0.39, 0.46, 0.55, 0.64, 0.75, 0.86, 1.13],
  [2017.92, 0.27, 0.33, 0.41, 0.50, 0.60, 0.70, 0.97], [2017.94, 0.35, 0.42, 0.50, 0.59, 0.69, 0.80, 1.05], [2017.96, 0.32, 0.38, 0.47, 0.56, 0.66, 0.76, 0.95],
  [2017.98, 0.40, 0.47, 0.56, 0.65, 0.76, 0.87, 1.10], [2018.00, 0.28, 0.34, 0.42, 0.51, 0.61, 0.72, 0.89], [2018.02, 0.36, 0.43, 0.51, 0.60, 0.71, 0.82, 1.02],
  [2018.04, 0.24, 0.29, 0.37, 0.46, 0.55, 0.65, 0.84], [2018.06, 0.33, 0.39, 0.47, 0.55, 0.66, 0.77, 1.18], [2018.08, 0.26, 0.32, 0.40, 0.49, 0.58, 0.68, 0.86],
  [2018.10, 0.22, 0.27, 0.35, 0.44, 0.53, 0.62, 0.80], [2018.13, 0.29, 0.35, 0.43, 0.52, 0.63, 0.74], [2018.16, 0.25, 0.30, 0.38, 0.47, 0.61],
  [2018.25, 0.39, 0.46, 0.54, 0.62, 0.77], [2018.28, 0.44, 0.52, 0.60, 0.69, 0.94], [2018.31, 0.35, 0.41, 0.49, 0.57, 0.73],
  [2018.34, 0.41, 0.48, 0.56, 0.66, 0.88], [2018.37, 0.30, 0.36, 0.44, 0.53, 0.70], [2018.40, 0.37, 0.44, 0.52, 0.61, 0.82], [2018.43, 0.33, 0.39, 0.47, 0.56, 0.79],
  [2018.47, 0.17, 0.21, 0.29, 0.38, 0.56], [2018.49, 0.27, 0.33, 0.42, 0.52, 0.63, 0.75, 1.06], [2018.51, 0.37, 0.45, 0.55, 0.66, 0.78, 0.92, 1.22],
  [2018.53, 0.32, 0.39, 0.49, 0.60, 0.71, 0.84, 1.15], [2018.55, 0.43, 0.52, 0.62, 0.74, 0.86, 0.99, 1.30], [2018.57, 0.36, 0.44, 0.54, 0.65, 0.76, 0.89, 1.12],
  [2018.59, 0.30, 0.36, 0.46, 0.57, 0.68, 0.80, 1.04], [2018.61, 0.40, 0.49, 0.59, 0.70, 0.82, 0.95, 1.26], [2018.63, 0.34, 0.41, 0.51, 0.62, 0.74, 0.86, 1.48],
  [2018.65, 0.26, 0.32, 0.42, 0.53, 0.64, 0.76, 0.98], [2018.67, 0.38, 0.46, 0.56, 0.67, 0.79, 0.91, 1.17], [2018.69, 0.31, 0.38, 0.48, 0.58, 0.69, 0.81, 1.05],
  [2018.71, 0.24, 0.29, 0.39, 0.49, 0.60, 0.71, 0.93], [2018.73, 0.35, 0.43, 0.53, 0.63, 0.75, 0.87, 1.11], [2018.75, 0.29, 0.35, 0.45, 0.55, 0.66, 0.78, 1.01],
  [2018.77, 0.22, 0.27, 0.36, 0.46, 0.57, 0.68, 0.90], [2018.79, 0.33, 0.40, 0.50, 0.60, 0.71, 0.83, 1.08], [2018.81, 0.27, 0.33, 0.42, 0.51, 0.62, 0.73, 0.96],
  [2018.83, 0.37, 0.45, 0.55, 0.65, 0.76, 0.88, 1.28], [2018.85, 0.30, 0.37, 0.46, 0.56, 0.67, 0.79, 1.03], [2018.87, 0.25, 0.30, 0.39, 0.48, 0.59, 0.70, 0.91],
  [2018.89, 0.35, 0.42, 0.51, 0.61, 0.72, 0.84, 1.10], [2018.91, 0.28, 0.34, 0.43, 0.52, 0.63, 0.75, 0.97], [2018.93, 0.39, 0.47, 0.56, 0.66, 0.77, 0.89, 1.20],
  [2018.95, 0.32, 0.39, 0.48, 0.57, 0.68, 0.80, 1.05], [2018.97, 0.26, 0.31, 0.40, 0.49, 0.60, 0.71, 0.94], [2018.99, 0.36, 0.44, 0.53, 0.62, 0.73, 0.85, 1.13],
  [2019.01, 0.30, 0.36, 0.45, 0.54, 0.65, 0.77, 1.26], [2019.03, 0.40, 0.48, 0.57, 0.67, 0.78, 0.90, 1.33], [2019.05, 0.33, 0.40, 0.49, 0.58, 0.69, 0.81, 1.08],
  [2019.07, 0.27, 0.33, 0.41, 0.50, 0.61, 0.72, 0.95], [2019.09, 0.37, 0.45, 0.54, 0.63, 0.74, 0.86], [2019.11, 0.23, 0.28, 0.37, 0.46, 0.56, 0.67],
  [2019.13, 0.31, 0.37, 0.46, 0.55, 0.66, 0.78], [2019.15, 0.15, 0.18, 0.30, 0.42, 0.62],
  [2019.23, 0.39, 0.47, 0.57, 0.69, 0.88], [2019.25, 0.32, 0.39, 0.49, 0.60, 0.98], [2019.27, 0.43, 0.52, 0.62, 0.74, 1.04], [2019.29, 0.36, 0.44, 0.54, 0.65, 0.85],
  [2019.31, 0.29, 0.35, 0.45, 0.56, 0.81], [2019.33, 0.41, 0.50, 0.60, 0.71, 1.13], [2019.35, 0.35, 0.42, 0.52, 0.63, 0.90], [2019.37, 0.46, 0.55, 0.65, 0.76, 1.01],
  [2019.39, 0.38, 0.46, 0.56, 0.67, 1.32], [2019.41, 0.31, 0.38, 0.48, 0.59, 0.83], [2019.43, 0.44, 0.53, 0.63, 0.73, 1.07], [2019.45, 0.34, 0.41, 0.51, 0.62, 0.92],
  [2019.47, 0.41, 0.49, 0.59, 0.70, 0.96], [2019.49, 0.30, 0.36, 0.46, 0.58, 0.79], [2019.51, 0.37, 0.44, 0.55, 0.66, 1.12], [2019.53, 0.42, 0.51, 0.62, 0.75, 1.30],
  [2019.55, 0.33, 0.40, 0.50, 0.61, 0.99], [2019.57, 0.27, 0.33, 0.44, 0.55, 1.40], [2019.59, 0.37, 0.45, 0.54, 0.64, 1.02],
];

// scatter rows: [surface value, FTIR values...]
const C_DRY = [
  [402.9, 400, 402.5, 405], [403.4, 401, 403.6, 407.8], [403.8, 400.4, 402.2, 404.9, 406.3], [404.3, 401.7, 403.1, 405.8, 409.4],
  [404.7, 400.2, 404.4, 406.9, 402.8], [405.2, 401.3, 403.5, 405.1, 408.2, 410.6], [405.6, 402.6, 404.8, 407.3, 400.9],
  [406.1, 401.8, 403.9, 406.2, 408.8, 411.7], [406.5, 403.2, 405.5, 407.6, 410.1, 400.6], [406.9, 402.1, 404.3, 406.7, 409.2, 412.9],
  [407.4, 403.7, 405.9, 408.1, 410.7, 401.5], [407.8, 402.4, 404.6, 407.0, 409.5, 413.8, 406.2], [408.3, 404.1, 406.4, 408.7, 411.3, 402.9],
  [408.7, 403.3, 405.2, 407.5, 410.0, 412.4, 415.6], [409.2, 404.8, 406.9, 409.3, 411.8, 403.6, 408.1], [409.6, 403.9, 405.7, 408.4, 410.6, 413.5, 416.8],
  [410.1, 405.3, 407.6, 409.9, 412.2, 414.7, 404.2], [410.5, 404.5, 406.3, 408.8, 411.4, 413.1, 417.9], [411.0, 406.1, 408.2, 410.4, 412.9, 415.5, 405.0],
  [411.4, 405.2, 407.1, 409.6, 411.9, 414.3, 418.7, 421.6], [411.9, 406.8, 408.9, 411.2, 413.6, 416.2, 404.7], [412.3, 405.9, 407.8, 410.1, 412.5, 414.9, 419.4],
  [412.8, 407.4, 409.5, 411.8, 414.1, 416.9, 406.3, 420.5], [413.2, 406.6, 408.5, 410.9, 413.3, 415.7, 418.2], [413.7, 408.1, 410.2, 412.4, 414.8, 417.5, 405.8, 422.3],
  [414.1, 407.3, 409.3, 411.6, 413.9, 416.3, 419.1], [414.6, 408.7, 410.8, 413.1, 415.5, 418.2, 406.9, 421.4], [415.0, 407.9, 409.9, 412.2, 414.6, 417.0, 419.8, 423.7],
  [415.5, 409.4, 411.5, 413.7, 416.1, 418.8, 407.6], [415.9, 408.6, 410.6, 412.9, 415.2, 417.7, 420.6, 424.9], [416.4, 410.0, 412.2, 414.4, 416.8, 419.4, 408.3, 422.1],
  [416.8, 409.2, 411.3, 413.5, 415.9, 418.3, 421.2], [417.3, 410.7, 412.8, 415.1, 417.4, 420.1, 409.1, 425.6], [417.7, 409.9, 411.9, 414.2, 416.6, 419.0, 422.0],
  [418.2, 411.3, 413.5, 415.7, 418.1, 420.7, 408.8, 423.9, 427.4], [418.6, 410.5, 412.6, 414.8, 417.2, 419.6, 422.7], [419.1, 412.0, 414.1, 416.4, 418.8, 421.4, 410.2, 425.1],
  [419.5, 411.2, 413.2, 415.5, 417.9, 420.3, 423.5, 428.6], [420.0, 412.7, 414.8, 417.0, 419.4, 422.0, 409.6, 426.2], [420.4, 411.9, 413.9, 416.1, 418.5, 420.9, 424.2],
  [420.9, 413.4, 415.5, 417.7, 420.1, 422.7, 411.3, 427.3, 431.8], [421.3, 412.6, 414.6, 416.8, 419.2, 421.6, 425.0], [421.8, 414.1, 416.2, 418.4, 420.8, 423.4, 410.7, 428.1, 436.2],
  [422.2, 413.3, 415.3, 417.5, 419.9, 422.3, 425.7], [422.7, 414.8, 416.9, 419.1, 421.5, 424.1, 412.4, 429.0], [423.1, 414.0, 416.0, 418.2, 420.6, 423.0, 426.5, 432.7],
  [423.6, 415.5, 417.6, 419.8, 422.2, 424.8, 411.8, 429.9], [424.0, 414.7, 416.7, 418.9, 421.3, 423.7, 427.2], [424.5, 416.2, 418.3, 420.5, 422.9, 425.5, 413.5, 430.8, 434.6],
  [424.9, 415.4, 417.4, 419.6, 422.0, 424.4, 428.0], [425.4, 416.9, 419.0, 421.2, 423.6, 426.2, 412.9, 431.6], [425.8, 416.1, 418.1, 420.3, 422.7, 425.1, 428.7, 435.9],
  [426.3, 417.6, 419.7, 421.9, 424.3, 426.9, 414.6, 432.5], [426.7, 416.8, 418.8, 421.0, 423.4, 425.8, 429.5], [427.2, 418.3, 420.4, 422.6, 425.0, 427.6, 414.0, 433.3, 438.4],
  [427.6, 417.5, 419.5, 421.7, 424.1, 426.5, 430.2], [428.1, 419.0, 421.1, 423.3, 425.7, 428.3, 415.7, 434.2], [428.5, 418.2, 420.2, 422.4, 424.8, 427.2, 431.0, 440.1],
  [429.0, 419.7, 421.8, 424.0, 426.4, 429.0, 415.1, 435.0], [429.4, 418.9, 420.9, 423.1, 425.5, 427.9, 431.7], [429.9, 420.4, 422.5, 424.7, 427.1, 429.7, 416.8, 435.8, 441.6],
  [430.3, 419.6, 421.6, 423.8, 426.2, 428.6, 432.5], [430.8, 421.1, 423.2, 425.4, 427.8, 430.4, 417.2, 436.7], [431.3, 420.3, 422.3, 424.5, 426.9, 429.3, 433.2, 444.3],
  [431.8, 421.8, 423.9, 426.1, 428.5, 431.1, 418.4, 437.5], [432.3, 421.0, 423.0, 425.2, 427.6, 430.0, 434.0], [432.8, 422.5, 424.6, 426.8, 429.2, 431.8, 419.1, 438.3, 443.5],
  [433.4, 421.7, 423.7, 425.9, 428.3, 430.7, 434.7], [433.9, 423.2, 425.3, 427.5, 429.9, 432.5, 419.8, 439.2, 446.0], [434.5, 422.4, 424.4, 426.6, 429.0, 431.4, 435.5],
  [435.1, 423.9, 426.0, 428.2, 430.6, 433.2, 421.0, 440.0, 469.3], [435.7, 423.1, 425.1, 427.3, 429.7, 432.1, 436.2, 452.1], [436.3, 424.6, 426.7, 428.9, 431.3, 433.9, 421.6, 440.8, 447.2],
  [436.9, 423.8, 425.8, 428.0, 430.4, 432.8, 437.0, 470.1], [437.5, 425.3, 427.4, 429.6, 432.0, 434.6, 422.7, 441.7, 405.4], [438.1, 424.5, 426.5, 428.7, 431.1, 433.5, 437.7, 455.0],
  [438.7, 426.0, 428.1, 430.3, 432.7, 435.3, 423.4, 442.5, 449.8], [439.3, 425.2, 427.2, 429.4, 431.8, 434.2, 438.5, 457.3], [439.9, 426.7, 428.8, 431.0, 433.4, 436.0, 424.1, 443.3, 469.7],
  [440.6, 425.9, 427.9, 430.1, 432.5, 434.9, 439.2, 462.4], [441.3, 427.4, 429.5, 431.7, 434.1, 436.7, 425.3, 444.2, 450.6, 470.4], [442.0, 426.6, 428.6, 430.8, 433.2, 435.6, 440.0, 458.1],
  [442.7, 428.1, 430.2, 432.4, 434.8, 437.4, 426.0, 445.0, 413.2], [443.4, 427.3, 429.3, 431.5, 433.9, 436.3, 440.7, 451.4, 464.2], [444.1, 428.8, 430.9, 433.1, 435.5, 438.1, 426.7, 445.8, 466.4],
  [444.8, 428.0, 430.0, 432.2, 434.6, 437.0, 441.5, 452.7, 460.0], [445.5, 429.5, 431.6, 433.8, 436.2, 438.8, 427.4, 446.7, 497.2], [446.2, 428.7, 430.7, 432.9, 435.3, 437.7, 442.2, 455.3, 465.1],
  [446.9, 430.2, 432.3, 434.5, 436.9, 439.5, 428.1, 447.5, 460.3], [447.6, 429.4, 431.4, 433.6, 436.0, 438.4, 443.0, 456.1, 477.2], [448.3, 430.9, 433.0, 435.2, 437.6, 440.2, 448.3, 462.2],
  [449.0, 430.1, 432.1, 434.3, 436.7, 439.1, 443.7, 459.4, 469.0], [449.7, 431.6, 433.7, 435.9, 438.3, 440.9, 449.2, 464.0], [450.4, 430.8, 432.8, 435.0, 437.4, 439.8, 444.5, 453.1, 461.3],
  [451.1, 432.3, 434.4, 436.6, 439.0, 441.6, 450.0, 466.2, 420.3], [451.9, 431.5, 435.1, 438.1, 442.4, 450.8, 458.4, 481.3], [452.7, 433.0, 436.2, 440.3, 446.2, 452.5, 460.2, 470.1],
  [453.5, 432.2, 437.0, 443.9, 451.1, 457.4, 465.2], [454.3, 434.7, 438.8, 444.1, 447.3, 454.2, 462.3, 468.1], [455.1, 433.4, 439.2, 445.5, 452.4, 459.3, 487.6],
  [455.9, 436.1, 442.0, 449.3, 456.0, 463.4, 411.1], [456.7, 434.8, 440.4, 447.2, 454.6, 461.1, 468.3], [457.5, 438.3, 444.1, 451.0, 458.2, 465.0],
  [458.3, 435.6, 442.5, 448.7, 455.4, 462.0, 471.2], [459.1, 437.4, 445.2, 452.2, 459.0, 466.1, 499.4], [459.9, 440.1, 447.3, 454.1, 461.4],
  [460.7, 436.9, 443.6, 450.4, 458.3, 469.0], [461.5, 441.2, 448.1, 456.2, 463.0, 484.5], [462.4, 438.5, 446.0, 453.2, 460.3, 468.2],
  [463.3, 443.0, 450.1, 457.4, 465.1, 472.0], [464.2, 439.7, 447.2, 455.0, 462.0], [465.1, 444.2, 452.0, 459.1, 467.3, 485.2],
  [466.1, 441.4, 449.0, 456.3, 464.2, 436.4], [467.1, 445.4, 453.2, 461.0, 470.1], [468.1, 448.1, 456.3, 463.2, 419.7],
  [469.1, 443.3, 451.4, 460.2, 489.3, 497.1], [470.3, 447.1, 455.2, 466.0], [471.4, 450.2, 458.1, 449.8], [472.7, 445.3, 462.0, 497.4],
  [473.8, 452.1, 457.0, 468.2], [475.1, 441.3, 449.1, 460.2], [476.3, 450.1, 493.8], [477.3, 456.0, 485.9], [478.6, 444.2, 462.3],
  [480.1, 453.0, 489.3], [481.0, 461.6], [484.2, 453.5, 454.2], [499.6, 458.5],
];

const C_RAINY = [
  [401.5, 401], [402.8, 404], [403.6, 409], [403.9, 406.2], [404.3, 413], [405.1, 407], [405.3, 411.6], [405.8, 414], [406.4, 410], [407.2, 406],
  [407.5, 414.5], [407.9, 416], [408.6, 411], [409.2, 419], [409.5, 416.5], [409.9, 414], [410.7, 421], [411.3, 409], [411.9, 417], [412.2, 427],
  [412.6, 424], [413.2, 419], [413.8, 413], [414.5, 426], [414.9, 431], [415.1, 421], [415.7, 428], [416.4, 418], [417.0, 424], [417.6, 431],
  [417.9, 434], [418.3, 422], [418.9, 427], [419.3, 430.5], [419.5, 433], [420.2, 425], [420.8, 430], [421.1, 433.5], [421.4, 436], [422.1, 419],
  [422.7, 428], [423.3, 434], [423.8, 436.5], [424.0, 424], [424.6, 431], [425.2, 437], [425.9, 427], [426.2, 437.5], [426.5, 433], [427.1, 421],
  [427.8, 436], [428.4, 430], [428.9, 435.5], [429.0, 438], [429.7, 426], [430.3, 434], [431.0, 440], [431.6, 429], [432.3, 436], [433.0, 424],
  [433.7, 441], [434.3, 458], [435.0, 433], [435.7, 443], [436.4, 427], [437.1, 446], [437.8, 437], [438.5, 449], [439.2, 431], [439.9, 461],
  [440.6, 443], [441.3, 450], [442.0, 435], [442.8, 447], [443.6, 453], [444.5, 473], [445.3, 439], [446.1, 455], [446.8, 420], [447.6, 449],
  [448.5, 444], [449.4, 457], [450.3, 432], [451.5, 428], [452.4, 437], [453.8, 446], [455.2, 435], [456.3, 440], [457.1, 457], [458.0, 458],
  [459.6, 452], [461.5, 447], [463.0, 455], [465.0, 432], [469.0, 424.5], [475.0, 425.5], [493.5, 420.2], [406.0, 400.5], [410.3, 406],
  [416.2, 403], [419.8, 407], [424.5, 410], [429.3, 414], [433.8, 419], [438.6, 422], [443.0, 428], [436.0, 416],
];

const D_DRY = [
  [0.090, 0.03, 0.04, 0.05, 0.06, 0.07], [0.098, 0.03, 0.045, 0.055, 0.065, 0.08], [0.106, 0.04, 0.05, 0.06, 0.07, 0.085],
  [0.114, 0.04, 0.055, 0.065, 0.075, 0.09, 0.10], [0.122, 0.045, 0.06, 0.07, 0.08, 0.095, 0.11],
  [0.130, 0.040, 0.053, 0.065, 0.074, 0.084, 0.094, 0.104, 0.116, 0.130], [0.138, 0.052, 0.064, 0.076, 0.086, 0.096, 0.106, 0.117, 0.131, 0.144],
  [0.146, 0.050, 0.063, 0.076, 0.087, 0.097, 0.108, 0.118, 0.131, 0.147], [0.154, 0.062, 0.076, 0.087, 0.098, 0.109, 0.120, 0.132, 0.147, 0.160],
  [0.162, 0.060, 0.074, 0.088, 0.099, 0.110, 0.121, 0.132, 0.146, 0.163], [0.170, 0.072, 0.087, 0.099, 0.111, 0.122, 0.134, 0.146, 0.163, 0.177],
  [0.178, 0.070, 0.085, 0.099, 0.111, 0.123, 0.135, 0.147, 0.162, 0.179], [0.186, 0.083, 0.098, 0.111, 0.123, 0.136, 0.148, 0.161, 0.178, 0.193],
  [0.194, 0.080, 0.095, 0.111, 0.123, 0.136, 0.149, 0.161, 0.177, 0.196], [0.202, 0.093, 0.109, 0.123, 0.136, 0.149, 0.162, 0.176, 0.194, 0.210],
  [0.210, 0.089, 0.106, 0.122, 0.136, 0.149, 0.162, 0.175, 0.192, 0.212, 0.021], [0.218, 0.103, 0.120, 0.135, 0.149, 0.162, 0.176, 0.191, 0.210, 0.227, 0.035],
  [0.226, 0.099, 0.117, 0.134, 0.148, 0.162, 0.176, 0.190, 0.207, 0.228], [0.234, 0.113, 0.131, 0.147, 0.161, 0.175, 0.190, 0.206, 0.226, 0.243, 0.012],
  [0.242, 0.109, 0.127, 0.146, 0.160, 0.175, 0.189, 0.204, 0.222, 0.244], [0.250, 0.124, 0.142, 0.159, 0.174, 0.189, 0.204, 0.220, 0.241, 0.260],
  [0.258, 0.119, 0.138, 0.157, 0.172, 0.188, 0.203, 0.219, 0.238, 0.261], [0.266, 0.134, 0.153, 0.171, 0.186, 0.202, 0.218, 0.235, 0.257, 0.277],
  [0.274, 0.128, 0.149, 0.169, 0.185, 0.201, 0.217, 0.233, 0.253, 0.277], [0.282, 0.144, 0.165, 0.183, 0.199, 0.215, 0.232, 0.250, 0.273, 0.293],
  [0.290, 0.138, 0.159, 0.180, 0.197, 0.214, 0.230, 0.247, 0.268, 0.293, 0.12], [0.298, 0.154, 0.176, 0.194, 0.212, 0.229, 0.246, 0.265, 0.289, 0.310],
  [0.306, 0.148, 0.170, 0.192, 0.209, 0.227, 0.244, 0.262, 0.283, 0.310], [0.314, 0.164, 0.187, 0.206, 0.224, 0.242, 0.260, 0.279, 0.304, 0.327, 0.36],
  [0.322, 0.158, 0.180, 0.203, 0.221, 0.240, 0.258, 0.276, 0.299, 0.326], [0.330, 0.175, 0.198, 0.218, 0.237, 0.255, 0.274, 0.294, 0.320, 0.343],
  [0.338, 0.168, 0.191, 0.215, 0.234, 0.252, 0.271, 0.290, 0.314, 0.342], [0.346, 0.185, 0.209, 0.230, 0.249, 0.269, 0.288, 0.309, 0.336, 0.360, 0.17],
  [0.354, 0.177, 0.202, 0.226, 0.246, 0.265, 0.285, 0.305, 0.329, 0.358], [0.362, 0.195, 0.220, 0.242, 0.262, 0.282, 0.302, 0.324, 0.352, 0.376],
  [0.370, 0.187, 0.212, 0.238, 0.258, 0.278, 0.299, 0.319, 0.344, 0.375, 0.41], [0.378, 0.205, 0.231, 0.254, 0.275, 0.295, 0.316, 0.339, 0.367, 0.393],
  [0.386, 0.197, 0.223, 0.249, 0.270, 0.291, 0.312, 0.333, 0.359, 0.391], [0.394, 0.216, 0.242, 0.266, 0.287, 0.308, 0.330, 0.353, 0.383, 0.410],
  [0.402, 0.207, 0.234, 0.261, 0.283, 0.304, 0.326, 0.348, 0.375, 0.407, 0.44], [0.410, 0.226, 0.253, 0.278, 0.300, 0.322, 0.344, 0.368, 0.399, 0.426],
  [0.418, 0.216, 0.244, 0.272, 0.295, 0.317, 0.340, 0.362, 0.390, 0.424], [0.426, 0.236, 0.264, 0.290, 0.312, 0.335, 0.358, 0.383, 0.415, 0.443],
  [0.434, 0.226, 0.255, 0.284, 0.307, 0.330, 0.353, 0.376, 0.405, 0.440, 0.20], [0.442, 0.246, 0.276, 0.301, 0.325, 0.348, 0.372, 0.398, 0.430, 0.460],
  [0.450, 0.236, 0.266, 0.295, 0.319, 0.343, 0.367, 0.391, 0.420, 0.456], [0.458, 0.257, 0.287, 0.313, 0.337, 0.362, 0.386, 0.412, 0.446, 0.476, 0.52],
  [0.466, 0.246, 0.276, 0.307, 0.332, 0.356, 0.381, 0.405, 0.436, 0.472, 0.887], [0.474, 0.267, 0.298, 0.325, 0.350, 0.375, 0.400, 0.427, 0.462, 0.493],
  [0.482, 0.256, 0.287, 0.319, 0.344, 0.369, 0.394, 0.419, 0.451, 0.489, 0.23], [0.490, 0.277, 0.309, 0.337, 0.363, 0.388, 0.414, 0.442, 0.478, 0.510],
  [0.498, 0.265, 0.298, 0.330, 0.356, 0.382, 0.408, 0.434, 0.466, 0.505], [0.506, 0.287, 0.320, 0.349, 0.375, 0.401, 0.428, 0.457, 0.493, 0.526, 0.57],
  [0.514, 0.275, 0.308, 0.342, 0.368, 0.395, 0.422, 0.448, 0.481, 0.521], [0.522, 0.298, 0.331, 0.361, 0.388, 0.415, 0.442, 0.471, 0.509, 0.543, 0.12],
  [0.530, 0.285, 0.319, 0.353, 0.380, 0.408, 0.435, 0.462, 0.497, 0.538, 0.26], [0.538, 0.308, 0.342, 0.373, 0.400, 0.428, 0.456, 0.486, 0.525, 0.560],
  [0.546, 0.295, 0.330, 0.365, 0.393, 0.421, 0.449, 0.477, 0.512, 0.554], [0.554, 0.318, 0.353, 0.385, 0.413, 0.441, 0.470, 0.501, 0.541, 0.576, 0.62],
  [0.562, 0.304, 0.340, 0.376, 0.405, 0.434, 0.462, 0.491, 0.527, 0.570], [0.570, 0.328, 0.365, 0.397, 0.426, 0.455, 0.484, 0.516, 0.557, 0.593],
  [0.578, 0.314, 0.351, 0.388, 0.417, 0.447, 0.476, 0.506, 0.542, 0.587, 0.29], [0.586, 0.338, 0.376, 0.408, 0.438, 0.468, 0.498, 0.531, 0.572, 0.609],
  [0.594, 0.324, 0.362, 0.399, 0.429, 0.460, 0.490, 0.520, 0.558, 0.603], [0.602, 0.349, 0.387, 0.420, 0.451, 0.481, 0.512, 0.545, 0.588, 0.626, 0.67],
  [0.610, 0.334, 0.372, 0.411, 0.442, 0.473, 0.503, 0.534, 0.573, 0.619], [0.618, 0.359, 0.398, 0.432, 0.463, 0.495, 0.526, 0.560, 0.604, 0.643],
  [0.626, 0.344, 0.383, 0.422, 0.454, 0.485, 0.517, 0.549, 0.588, 0.635, 0.31], [0.634, 0.369, 0.409, 0.444, 0.476, 0.508, 0.540, 0.575, 0.620, 0.659],
  [0.642, 0.353, 0.394, 0.434, 0.466, 0.498, 0.531, 0.563, 0.603, 0.652],
  [0.655, 0.34, 0.41, 0.45, 0.49, 0.52, 0.55, 0.59, 0.63, 0.70], [0.667, 0.39, 0.44, 0.47, 0.50, 0.54, 0.57, 0.61, 0.66, 0.28],
  [0.679, 0.36, 0.42, 0.46, 0.51, 0.53, 0.56, 0.60, 0.68, 0.21], [0.691, 0.43, 0.48, 0.52, 0.55, 0.58, 0.62, 0.67, 0.75],
  [0.703, 0.39, 0.45, 0.47, 0.50, 0.54, 0.57, 0.61, 0.65, 0.69, 1.19], [0.715, 0.35, 0.45, 0.49, 0.53, 0.56, 0.60, 0.64, 0.71, 0.80, 1.16],
  [0.727, 0.44, 0.48, 0.52, 0.55, 0.59, 0.63, 0.67, 0.93], [0.739, 0.40, 0.46, 0.50, 0.54, 0.58, 0.61, 0.65, 0.72, 0.84, 0.32],
  [0.751, 0.47, 0.49, 0.53, 0.57, 0.60, 0.64, 0.68, 0.77, 1.41], [0.763, 0.37, 0.43, 0.51, 0.55, 0.59, 0.62, 0.66, 0.71, 0.90, 1.25],
  [0.775, 0.45, 0.50, 0.55, 0.58, 0.63, 0.67, 0.74, 0.86], [0.787, 0.41, 0.48, 0.53, 0.57, 0.61, 0.64, 0.69, 0.79, 1.02],
  [0.799, 0.50, 0.52, 0.56, 0.60, 0.65, 0.70, 0.75, 0.95, 1.06], [0.811, 0.39, 0.46, 0.54, 0.58, 0.62, 0.66, 0.71, 0.81, 1.38],
  [0.823, 0.48, 0.53, 0.57, 0.61, 0.67, 0.72, 0.78, 0.35], [0.835, 0.44, 0.50, 0.55, 0.60, 0.64, 0.68, 0.73, 0.84, 0.99, 1.36],
  [0.847, 0.52, 0.59, 0.63, 0.69, 0.74, 0.80, 0.09], [0.859, 0.42, 0.47, 0.57, 0.61, 0.66, 0.70, 0.76, 0.87, 1.08],
  [0.871, 0.51, 0.56, 0.60, 0.65, 0.71, 0.79, 0.94, 1.03], [0.883, 0.46, 0.53, 0.58, 0.63, 0.68, 0.72, 0.82, 1.14],
  [0.895, 0.40, 0.55, 0.62, 0.67, 0.73, 0.78, 0.89], [0.907, 0.50, 0.57, 0.64, 0.69, 0.74, 0.84, 1.00, 0.37],
  [0.919, 0.45, 0.59, 0.64, 0.70, 0.75, 0.81, 0.92, 1.17], [0.931, 0.53, 0.61, 0.66, 0.72, 0.79, 0.86, 1.05],
  [0.943, 0.48, 0.56, 0.65, 0.70, 0.77, 0.84, 0.95, 0.39], [0.955, 0.43, 0.62, 0.68, 0.73, 0.80, 0.89, 1.12, 1.15],
  [0.967, 0.55, 0.60, 0.67, 0.74, 0.83, 0.94], [0.979, 0.50, 0.58, 0.64, 0.70, 0.77, 0.86, 1.08, 0.41],
  [0.991, 0.57, 0.63, 0.69, 0.76, 0.82, 0.91, 1.40], [1.003, 0.47, 0.60, 0.65, 0.71, 0.79, 0.88, 1.01, 1.33],
  [1.015, 0.54, 0.62, 0.71, 0.78, 0.85, 0.97], [1.027, 0.59, 0.66, 0.73, 0.80, 0.90, 1.15, 1.25],
  [1.039, 0.51, 0.60, 0.69, 0.76, 0.84, 0.94], [1.051, 0.62, 0.68, 0.75, 0.82, 0.91, 1.09, 1.41],
  [1.063, 0.56, 0.64, 0.74, 0.81, 0.88, 1.00, 1.38], [1.075, 0.45, 0.66, 0.72, 0.79, 0.86, 0.96],
  [1.087, 0.58, 0.65, 0.75, 0.83, 0.92, 1.21], [1.099, 0.53, 0.69, 0.77, 0.84, 0.93, 1.06],
  [1.120, 0.546, 0.615, 0.688, 0.772, 0.872, 1.052, 0.280], [1.135, 0.560, 0.632, 0.712, 0.795, 0.898, 1.150, 1.460],
  [1.150, 0.500, 0.598, 0.676, 0.760, 0.860, 0.978, 1.070], [1.170, 0.580, 0.655, 0.740, 0.832, 0.950, 1.120, 1.300],
  [1.190, 0.430, 0.612, 0.700, 0.790, 0.910, 1.040], [1.210, 0.600, 0.680, 0.770, 0.880, 1.020, 1.200, 1.380],
  [1.230, 0.520, 0.690, 0.810, 0.940, 1.100], [1.250, 0.620, 0.735, 0.860, 1.010, 1.460], [1.270, 0.550, 0.700, 0.840, 0.990, 1.170],
  [1.290, 0.410, 0.590, 0.780, 0.950, 1.450], [1.310, 0.650, 0.760, 0.900, 1.120], [1.330, 0.570, 0.640, 0.860, 1.050, 1.350],
  [1.350, 0.700, 0.820, 0.980, 1.200], [1.370, 0.540, 0.760, 0.930, 1.090], [1.390, 0.620, 0.810, 0.970, 1.270],
  [1.410, 0.610, 0.730, 0.900, 1.390], [1.430, 0.730, 0.860, 1.040, 1.310], [1.460, 0.660, 0.950, 1.120], [1.480, 0.580, 0.790, 1.420],
];

const D_RAINY = [
  [0.12, 0.10], [0.14, 0.155], [0.155, 0.118], [0.168, 0.186], [0.181, 0.142], [0.19, 0.222], [0.205, 0.171], [0.214, 0.243], [0.228, 0.196],
  [0.236, 0.268], [0.251, 0.215], [0.262, 0.301], [0.272, 0.238], [0.285, 0.322], [0.297, 0.262], [0.305, 0.35], [0.318, 0.284], [0.329, 0.371],
  [0.338, 0.306], [0.351, 0.402], [0.36, 0.331], [0.372, 0.428], [0.384, 0.352], [0.395, 0.462], [0.41, 0.72], [0.418, 0.489], [0.428, 0.375],
  [0.436, 0.512], [0.449, 0.402], [0.457, 0.546], [0.466, 0.331], [0.478, 0.571], [0.487, 0.44], [0.495, 0.603], [0.508, 0.392], [0.516, 0.628],
  [0.525, 0.471], [0.536, 0.66], [0.548, 0.421], [0.556, 0.688], [0.567, 0.509], [0.577, 0.722], [0.589, 0.462], [0.598, 0.751], [0.606, 0.552],
  [0.618, 0.79], [0.629, 0.498], [0.64, 0.94], [0.648, 0.598], [0.659, 0.832], [0.668, 0.542], [0.689, 0.928], [0.698, 0.637], [0.709, 0.874],
  [0.719, 0.575], [0.738, 0.905], [0.75, 0.688], [0.771, 1.228], [0.781, 0.776], [0.792, 0.968], [0.808, 0.728], [0.823, 1.002], [0.839, 0.826],
  [0.861, 1.248], [0.872, 0.948], [0.889, 0.778], [0.908, 1.062], [0.928, 0.876], [0.948, 1.118], [0.969, 0.842], [0.998, 1.024], [1.079, 0.558],
  [1.128, 0.852], [1.148, 0.771], [1.182, 1.178], [1.212, 0.918], [1.318, 0.878], [1.398, 0.892], [1.432, 0.821], [0.342, 0.212], [0.418, 0.268],
  [0.488, 0.309], [0.522, 0.118], [0.578, 0.193], [0.638, 0.352], [0.682, 0.398], [0.741, 0.462], [0.802, 0.518], [0.878, 0.612], [0.958, 0.661],
  [0.252, 0.132], [0.381, 0.161], [0.452, 0.241], [0.621, 0.288], [0.686, 0.18],
];

// fitted / reference line endpoints: [x, y]
const C_ONE_TO_ONE = [[400, 400], [500, 500]];
const C_FIT_RED = [[403.2, 400], [498.4, 494.3]];
const C_FIT_YELLOW = [[402.1, 400], [498.4, 491.2]];
const C_FIT_BLUE = [[402.4, 405], [493.5, 477.9]];
const D_ONE_TO_ONE = [[0, 0], [1.5, 1.5]];
const D_FIT = [[0.094, 0.057], [1.5, 1.206]];

const YEAR_TICKS = [2016, 2017, 2018, 2019];
const CO2_TICKS = [400, 420, 440, 460, 480, 500];
const CO_TICKS = [0, 0.2, 0.4, 0.6, 0.8, 1.0, 1.2, 1.4];

const rowsToPts = (rows: number[][]) => rows.flatMap(([x, ...ys]) => ys.map((y) => ({ x, y })));
const pairsToPts = (rows: number[][]) => rows.map(([x, y]) => ({ x, y }));

const RED = '#f01414';
const BLUE = '#1414e6';
const CYAN = '#20b9b9';
const OLIVE = '#b9bd22';
const TICK_FONT = 'DejaVu Sans';
const LABEL_FONT = 'Liberation Sans, Arial, sans-serif';

const dot = (color: string, r = 2) => (p: any) => <circle cx={p.cx} cy={p.cy} r={r} fill={color} />;
const noDot = () => <g />;

const XTick = ({ x, y, payload, plotH, fmt, dy }: any) => (
  <g>
    <line x1={x} x2={x} y1={y} y2={y - 10} stroke="#000" strokeWidth={1.4} />
    <line x1={x} x2={x} y1={y - plotH} y2={y - plotH + 10} stroke="#000" strokeWidth={1.4} />
    <text x={x} y={y + dy} textAnchor="middle" fontFamily={TICK_FONT} fontSize={26} fill="#000">{fmt(payload.value)}</text>
  </g>
);

const YTick = ({ x, y, payload, plotW, fmt }: any) => (
  <g>
    <line x1={x} x2={x + 10} y1={y} y2={y} stroke="#000" strokeWidth={1.4} />
    <line x1={x + plotW} x2={x + plotW - 10} y1={y} y2={y} stroke="#000" strokeWidth={1.4} />
    <text x={x - 9} y={y} dy="0.36em" textAnchor="end" fontFamily={TICK_FONT} fontSize={26} fill="#000">{fmt(payload.value)}</text>
  </g>
);

const L = 72, T = 24, R = 34, B = 45;

function Panel({ left, top, w, h, xDomain, yDomain, xTicks, yTicks, fmtX, fmtY, xdy, children }: any) {
  return (
    <div style={{ position: 'absolute', left: left - L, top: top - T }}>
      <ScatterChart width={w + L + R} height={h + T + B} margin={{ top: T, right: R, bottom: 0, left: 0 }}>
        <XAxis type="number" dataKey="x" domain={xDomain} ticks={xTicks} allowDataOverflow interval={0}
          height={B} axisLine={false} tickLine={false} tickSize={0} tickMargin={0}
          tick={(p: any) => <XTick {...p} plotH={h} fmt={fmtX} dy={xdy} />} />
        <YAxis type="number" dataKey="y" domain={yDomain} ticks={yTicks} allowDataOverflow interval={0}
          width={L} axisLine={false} tickLine={false} tickSize={0} tickMargin={0}
          tick={(p: any) => <YTick {...p} plotW={w} fmt={fmtY} />} />
        {children}
        <ReferenceArea x1={xDomain[0]} x2={xDomain[1]} y1={yDomain[0]} y2={yDomain[1]}
          fill="none" fillOpacity={0} stroke="#000" strokeWidth={2} />
      </ScatterChart>
    </div>
  );
}

const fitLine = (data: number[][], color: string, dash?: string) => (
  <Scatter data={pairsToPts(data)} fill={color} shape={noDot} isAnimationActive={false}
    line={{ stroke: color, strokeWidth: 2, strokeDasharray: dash }} />
);

const fmtInt = (v: number) => String(v);
const fmtOne = (v: number) => v.toFixed(1);

const T_STYLE = { fontFamily: LABEL_FONT, fill: '#000' } as const;

function Overlay() {
  return (
    <svg width={1137} height={945} style={{ position: 'absolute', left: 0, top: 0, pointerEvents: 'none' }}>
      {/* panel letters */}
      <text x={35} y={56} fontSize={40} {...T_STYLE}>(A)</text>
      <text x={612} y={54} fontSize={40} {...T_STYLE}>(B)</text>
      <text x={38} y={510} fontSize={40} {...T_STYLE}>(C)</text>
      <text x={610} y={505} fontSize={40} {...T_STYLE}>(D)</text>

      {/* legends A / B */}
      <rect x={217} y={27} width={8} height={8} fill={RED} />
      <text x={238} y={42} fontSize={29} {...T_STYLE}>From FTIR Tot.col.</text>
      <rect x={217} y={60} width={8} height={8} fill={BLUE} />
      <text x={238} y={74} fontSize={29} {...T_STYLE}>Surface</text>
      <rect x={808} y={27} width={8} height={8} fill={RED} />
      <text x={828} y={42} fontSize={29} {...T_STYLE}>From FTIR Tot.col.</text>
      <rect x={808} y={60} width={8} height={8} fill={BLUE} />
      <text x={828} y={74} fontSize={29} {...T_STYLE}>Surface</text>

      {/* legends C / D */}
      <rect x={151.5} y={558} width={6} height={6} fill={CYAN} />
      <text x={174} y={567} fontSize={25} {...T_STYLE}>Dry Season</text>
      <rect x={152} y={588} width={5} height={5} fill="#000" />
      <text x={174} y={593} fontSize={25} {...T_STYLE}>Rainy Season</text>
      <rect x={739} y={556} width={6} height={6} fill={CYAN} />
      <text x={762} y={567} fontSize={25} {...T_STYLE}>Dry Season</text>
      <rect x={739.5} y={586} width={5} height={5} fill="#000" />
      <text x={762} y={593} fontSize={25} {...T_STYLE}>Rainy Season</text>

      {/* y titles */}
      <text x={45} y={268} transform="rotate(-90 45 268)" textAnchor="middle" fontSize={29} {...T_STYLE}>
        CO<tspan fontSize={19} dy={7}>2</tspan><tspan fontSize={17} dy={-20}>ML</tspan><tspan dy={13}> (ppm)</tspan>
      </text>
      <text x={632} y={237} transform="rotate(-90 632 237)" textAnchor="middle" fontSize={29} {...T_STYLE}>
        CO<tspan fontSize={17} dx={8} dy={-13}>ML</tspan><tspan dy={13}> (ppm)</tspan>
      </text>
      <text x={36} y={678} transform="rotate(-90 36 678)" textAnchor="middle" fontSize={29} {...T_STYLE}>
        CO<tspan fontSize={19} dy={7}>2</tspan><tspan fontSize={17} dy={-20}>ML</tspan><tspan dy={13}> from FTIR tot. col. (ppm)</tspan>
      </text>
      <text x={630} y={688} transform="rotate(-90 630 688)" textAnchor="middle" fontSize={29} {...T_STYLE}>
        CO<tspan fontSize={17} dx={8} dy={-13}>ML</tspan><tspan dy={13}> from FTIR tot. col. (ppm)</tspan>
      </text>

      {/* x titles */}
      <text x={205} y={933} fontSize={29} {...T_STYLE}>
        CO<tspan fontSize={19} dy={7}>2</tspan><tspan dx={16} dy={-7}>surface (ppm)</tspan>
      </text>
      <text x={818} y={933} fontSize={29} {...T_STYLE}>
        CO<tspan dx={18}>surface (ppm)</tspan>
      </text>
    </svg>
  );
}

export default function App() {
  return (
    <div style={{ position: 'absolute', left: 0, top: 0, width: 1137, height: 945, overflow: 'hidden', background: '#fff' }}>
      {/* (A) CO2 time series */}
      <Panel left={122} top={83} w={443} h={343} xDomain={[2015.843, 2019.66]} yDomain={[400, 500]}
        xTicks={YEAR_TICKS} yTicks={CO2_TICKS} fmtX={fmtInt} fmtY={fmtInt} xdy={31}>
        <Scatter data={rowsToPts(A_FTIR)} fill={RED} shape={dot(RED)} isAnimationActive={false} />
        <Scatter data={rowsToPts(A_SURF)} fill={BLUE} shape={dot(BLUE)} isAnimationActive={false} />
      </Panel>

      {/* (B) CO time series */}
      <Panel left={701} top={83} w={443} h={343} xDomain={[2015.843, 2019.66]} yDomain={[0, 1.5]}
        xTicks={YEAR_TICKS} yTicks={CO_TICKS} fmtX={fmtInt} fmtY={fmtOne} xdy={31}>
        <Scatter data={rowsToPts(B_FTIR)} fill={RED} shape={dot(RED)} isAnimationActive={false} />
        <Scatter data={rowsToPts(B_SURF)} fill={BLUE} shape={dot(BLUE)} isAnimationActive={false} />
      </Panel>

      {/* (C) CO2 surface vs FTIR */}
      <Panel left={122} top={530} w={443} h={342} xDomain={[400, 500]} yDomain={[400, 500]}
        xTicks={CO2_TICKS} yTicks={CO2_TICKS} fmtX={fmtInt} fmtY={fmtInt} xdy={30}>
        <Scatter data={rowsToPts(C_DRY)} fill={CYAN} shape={dot(CYAN, 2.3)} isAnimationActive={false} />
        <Scatter data={pairsToPts(C_RAINY)} fill="#000" shape={dot('#000', 1.8)} isAnimationActive={false} />
        {fitLine(C_ONE_TO_ONE, '#000', '4 4')}
        {fitLine(C_FIT_BLUE, BLUE, '24 6')}
        {fitLine(C_FIT_YELLOW, OLIVE)}
        {fitLine(C_FIT_RED, '#ee1c1c', '26 5')}
      </Panel>

      {/* (D) CO surface vs FTIR */}
      <Panel left={700} top={530} w={445} h={342} xDomain={[0, 1.5]} yDomain={[0, 1.5]}
        xTicks={CO_TICKS} yTicks={CO_TICKS} fmtX={fmtOne} fmtY={fmtOne} xdy={30}>
        <Scatter data={rowsToPts(D_DRY)} fill={CYAN} shape={dot(CYAN, 2.2)} isAnimationActive={false} />
        <Scatter data={pairsToPts(D_RAINY)} fill="#000" shape={dot('#000', 1.8)} isAnimationActive={false} />
        {fitLine(D_ONE_TO_ONE, '#000', '4 4')}
        {fitLine(D_FIT, OLIVE)}
      </Panel>

      <Overlay />
    </div>
  );
}
